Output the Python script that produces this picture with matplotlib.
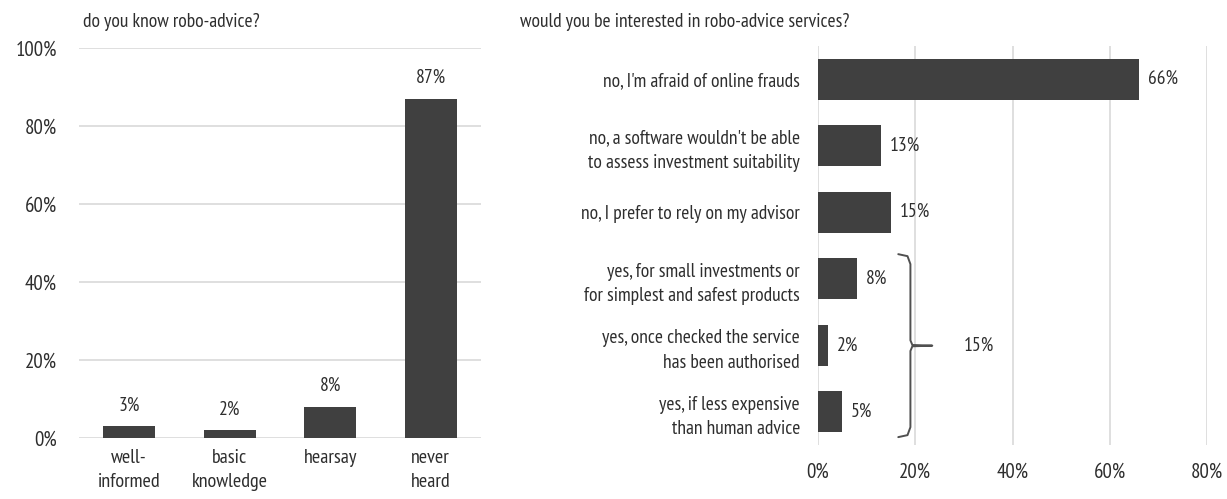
import matplotlib
matplotlib.use("Agg")
import matplotlib.pyplot as plt
import numpy as np

# --- data ---
know_labels = ["well-\ninformed", "basic\nknowledge", "hearsay", "never\nheard"]
know_values = [3, 2, 8, 87]

interest_labels = [
    "no, I'm afraid of online frauds",
    "no, a software wouldn't be able\nto assess investment suitability",
    "no, I prefer to rely on my advisor",
    "yes, for small investments or\nfor simplest and safest products",
    "yes, once checked the service\nhas been authorised",
    "yes, if less expensive\nthan human advice",
]
interest_values = [66, 13, 15, 8, 2, 5]
yes_total = 15

plt.rcParams['font.family'] = ['PT Sans Narrow', 'Open Sans Condensed', 'Liberation Sans', 'DejaVu Sans']
bar_color = '#404040'
text_color = '#2e2e2e'
grid_color = '#d9d9d9'
fs = 14

fig = plt.figure(figsize=(12.27, 4.99), dpi=100)

# --- left chart ---
ax1 = fig.add_axes([0.0644, 0.1222, 0.3276, 0.7816])
x = np.arange(len(know_values))
ax1.bar(x, know_values, width=0.52, color=bar_color, zorder=3)
ax1.set_xlim(-0.5, 3.5)
ax1.set_ylim(0, 100)
ax1.set_yticks(range(0, 101, 20))
ax1.set_yticklabels([f"{v}%" for v in range(0, 101, 20)], fontsize=fs + 1, color=text_color)
ax1.set_xticks(x)
ax1.set_xticklabels(know_labels, fontsize=fs + 0.5, color=text_color, linespacing=1.4)
ax1.tick_params(length=0, pad=8)
ax1.tick_params(axis='y', pad=16)
ax1.grid(axis='y', color=grid_color, lw=1.2, zorder=0)
for s in ax1.spines.values():
    s.set_visible(False)
for xi, v in zip(x, know_values):
    ax1.text(xi, v + 3, f"{v}%", ha='center', va='bottom', fontsize=fs, color=text_color)
fig.text(0.068, 0.955, "do you know robo-advice?", fontsize=fs, color=text_color, va='center')

# --- right chart ---
ax2 = fig.add_axes([0.6667, 0.108, 0.317, 0.80])
y = np.arange(len(interest_values))
ax2.barh(y, interest_values, height=0.62, color=bar_color, zorder=3)
ax2.set_ylim(5.5, -0.5)
ax2.set_xlim(0, 80)
ax2.set_xticks(range(0, 81, 20))
ax2.set_xticklabels([f"{v}%" for v in range(0, 81, 20)], fontsize=fs + 1, color=text_color)
ax2.set_yticks(y)
ax2.set_yticklabels(interest_labels, fontsize=fs, color=text_color, linespacing=1.45)
for lab in ax2.get_yticklabels():
    lab.set_multialignment('right')
ax2.tick_params(length=0)
ax2.tick_params(axis='x', pad=13)
ax2.tick_params(axis='y', pad=13)
ax2.grid(axis='x', color=grid_color, lw=1.2, zorder=0)
for s in ax2.spines.values():
    s.set_visible(False)
for yi, v in zip(y, interest_values):
    ax2.text(v + 1.8, yi, f"{v}%", ha='left', va='center', fontsize=fs, color=text_color)

# curly bracket around the "yes" answers
bx = max(interest_values[3:]) + 11
top, bot = 3 - 0.37, 5 + 0.38
mid = (top + bot) / 2
br_x = [bx - 2.5, bx - 0.6, bx, bx, bx + 0.4, bx + 4.5, bx + 0.4, bx, bx, bx - 0.6, bx - 2.5]
br_y = [top, top + 0.03, top + 0.15, mid - 0.08, mid - 0.01, mid, mid + 0.01, mid + 0.08,
        bot - 0.15, bot - 0.03, bot]
ax2.plot(br_x, br_y, color='#505050', lw=1.4, zorder=4, solid_capstyle='round')
ax2.text(bx + 11, mid, f"{yes_total}%", ha='left', va='center', fontsize=fs, color=text_color)

fig.text(0.424, 0.955, "would you be interested in robo-advice services?", fontsize=fs,
         color=text_color, va='center')

fig.savefig("out.png", dpi=100, facecolor='white')
